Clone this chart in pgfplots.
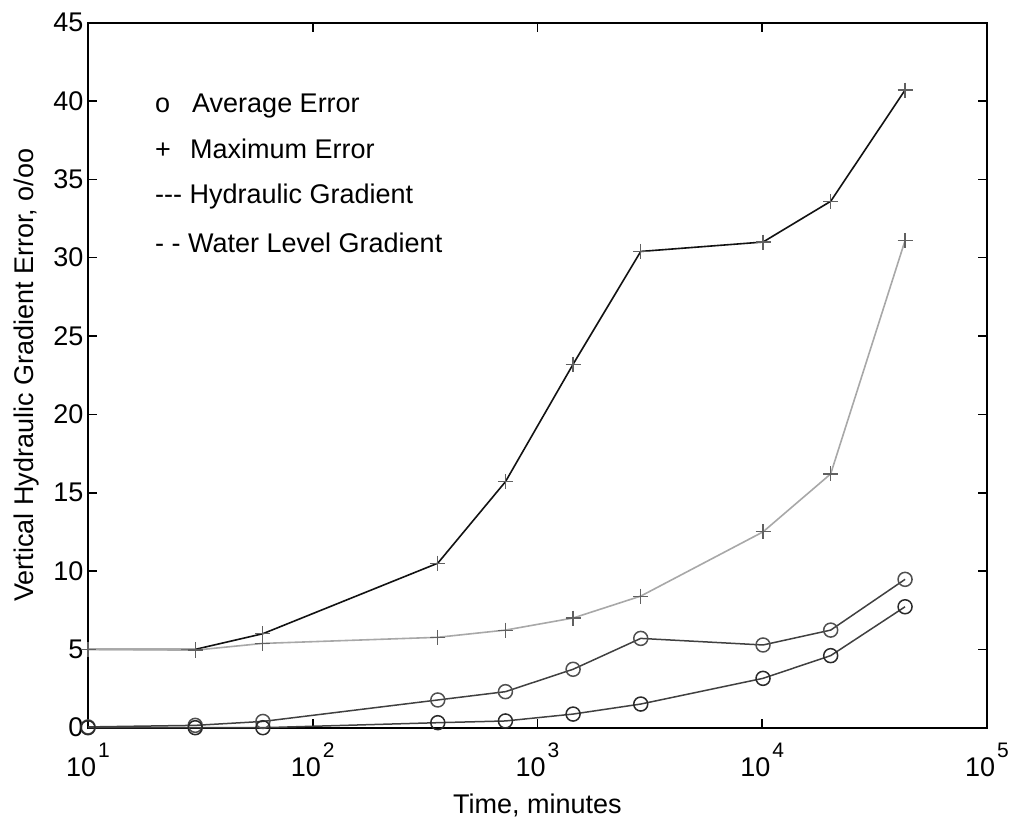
\documentclass[border=0pt]{standalone}
\usepackage{fontspec}
\setmainfont{Liberation Sans}
\usepackage{pgfplots}
\pgfplotsset{compat=1.18}
\newcommand\tp[1]{10\kern2pt\raisebox{19pt}{\fontsize{21}{21}\selectfont #1}}
\definecolor{lgray}{HTML}{A8A8A8}
\definecolor{mgray}{HTML}{606060}
\definecolor{dgray}{HTML}{404040}
\definecolor{cgray}{HTML}{505050}
\definecolor{cdark}{HTML}{2A2A2A}
\begin{document}
\begin{tikzpicture}
\useasboundingbox (-88pt,-95.3pt) rectangle (924pt,727.7pt);
\begin{axis}[
  at={(0pt,0pt)}, anchor=south west,
  scale only axis, width=899pt, height=705pt,
  xmode=log, xmin=10, xmax=100000, ymin=0, ymax=45,
  xtick={10,100,1000,10000,100000},
  xticklabels={\tp{1},\tp{2},\tp{3},\tp{4},\tp{5}},
  xminorticks=false,
  ytick={0,5,10,15,20,25,30,35,40,45},
  /pgf/number format/assume math mode=true,
  tick align=inside, major tick length=9pt,
  axis line style={line width=2pt},
  every tick/.style={black, line width=1.6pt},
  tick label style={font=\fontsize{27}{27}\selectfont},
  xticklabel style={yshift=-12pt},
  yticklabel style={xshift=-1pt},
  xlabel={Time, minutes},
  ylabel={Vertical Hydraulic Gradient Error, o/oo},
  label style={font=\fontsize{27}{27}\selectfont},
  xlabel style={at={(axis description cs:0.5,-0.1214)}, anchor=base},
  ylabel style={at={(axis description cs:-0.0605,0.5)}, anchor=base, rotate=0},
  clip=false,
]
% Hydraulic gradient, maximum error
\addplot[color=black!93, line width=1.6pt, mark=+, mark size=7.5pt,
  mark options={color=mgray, line width=1.2pt}] coordinates {
(10,5.0) (30,5.0) (60,6.0) (360,10.5) (720,15.7) (1440,23.2)
(2880,30.4) (10080,31.0) (20160,33.6) (43200,40.7)};
% Water level gradient, maximum error
\addplot[color=lgray, line width=1.6pt, mark=+, mark size=7.5pt,
  mark options={color=mgray, line width=1.2pt}] coordinates {
(10,5.0) (30,4.95) (60,5.38) (360,5.77) (720,6.23) (1440,7.0)
(2880,8.4) (10080,12.5) (20160,16.2) (43200,31.1)};
% Average error, upper
\addplot[color=dgray, line width=1.5pt, mark=o, mark size=7pt,
  mark options={color=cgray, line width=1.5pt}] coordinates {
(10,0.05) (30,0.15) (60,0.4) (360,1.77) (720,2.3) (1440,3.73)
(2880,5.7) (10080,5.28) (20160,6.23) (43200,9.47)};
% Average error, lower
\addplot[color=dgray, line width=1.5pt, mark=o, mark size=7pt,
  mark options={color=cdark, line width=1.5pt}] coordinates {
(10,0) (30,0) (60,0) (360,0.32) (720,0.43) (1440,0.87)
(2880,1.51) (10080,3.15) (20160,4.6) (43200,7.72)};
\end{axis}
\begin{scope}[every node/.style={inner sep=0pt, anchor=base west, font=\fontsize{27}{27}\selectfont}]
\node at (67pt,615pt) {o};
\node at (104pt,615pt) {Average Error};
\node at (67pt,569.4pt) {+};
\node at (102pt,569.4pt) {Maximum Error};
\node at (67pt,523.7pt) {{-}{-}{-} Hydraulic Gradient};
\node at (67pt,474.7pt) {{-} {-} Water Level Gradient};
\end{scope}
\end{tikzpicture}
\end{document}
